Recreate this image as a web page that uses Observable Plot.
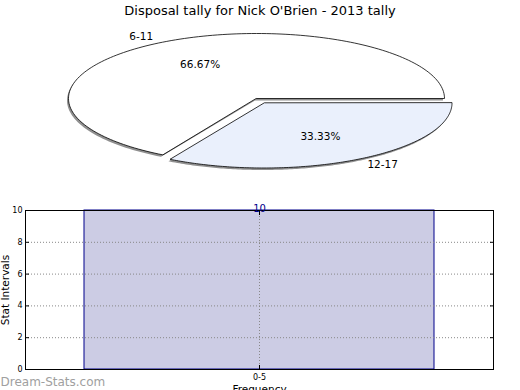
<!DOCTYPE html>
<html>
<head>
<meta charset="utf-8">
<script src="https://cdn.jsdelivr.net/npm/d3@7"></script>
<script src="https://cdn.jsdelivr.net/npm/@observablehq/plot@0.6"></script>
<style>
  html, body { margin: 0; padding: 0; background: #fff; width: 520px; height: 390px; overflow: hidden; }
  #title { font-family: "DejaVu Sans", sans-serif; font-size: 13px; text-align: center; height: 22px; line-height: 21px; color: #000; }
  svg { display: block; overflow: visible; }
</style>
</head>
<body>
<div id="title">Disposal tally for Nick O'Brien - 2013 tally</div>
<div id="pie"></div>
<div id="bar"></div>
<script>
// ---- data ----
const pieLabels = ["6-11", "12-17"];
const pieValues = [2, 1];
const pieExplode = [0, 0.08];
const pieColors = ["#ffffff", "#eaf0fc"];

const barCategories = ["0-5"];
const barValues = [10];
const yTicks = [0, 2, 4, 6, 8, 10];

// ---- pie geometry (matplotlib-style: start at 0°, counter-clockwise) ----
const total = d3.sum(pieValues);
let acc = 0;
const slices = pieValues.map((v, i) => {
  const a0 = acc / total * 2 * Math.PI;
  acc += v;
  const a1 = acc / total * 2 * Math.PI;
  const mid = (a0 + a1) / 2;
  const e = pieExplode[i];
  return {label: pieLabels[i], value: v, a0, a1, mid, cx: e * Math.cos(mid), cy: e * Math.sin(mid),
          pct: (v / total * 100).toFixed(2) + "%"};
});
const piePts = [];
for (const s of slices) {
  piePts.push({slice: s.label, x: s.cx, y: s.cy});
  const n = 160;
  for (let k = 0; k <= n; k++) {
    const a = s.a0 + (s.a1 - s.a0) * k / n;
    piePts.push({slice: s.label, x: s.cx + Math.cos(a), y: s.cy + Math.sin(a)});
  }
}
const labelPts = slices.map(s => ({
  text: s.label, x: s.cx + 1.1 * Math.cos(s.mid), y: s.cy + 1.1 * Math.sin(s.mid), right: Math.cos(s.mid) < 0
}));
const pctPts = slices.map(s => ({
  text: s.pct, x: s.cx + 0.6 * Math.cos(s.mid), y: s.cy + 0.6 * Math.sin(s.mid)
}));

const pie = Plot.plot({
  width: 520,
  height: 170,
  x: {domain: [-1, 1], range: [68, 444], axis: null},
  y: {domain: [-1, 1], range: [141, 11], axis: null},
  color: {domain: pieLabels, range: pieColors},
  style: {fontFamily: "DejaVu Sans, sans-serif", background: "transparent"},
  marks: [
    Plot.line(piePts, {x: "x", y: "y", z: "slice", curve: "linear-closed", fill: "#909090", stroke: "none", dx: -1.5, dy: 2}),
    Plot.line(piePts, {x: "x", y: "y", z: "slice", curve: "linear-closed", fill: "slice", stroke: "#000", strokeWidth: 0.8}),
    Plot.text(labelPts.filter(d => d.right), {x: "x", y: "y", text: "text", textAnchor: "end", fontSize: 10.5, fill: "#000"}),
    Plot.text(labelPts.filter(d => !d.right), {x: "x", y: "y", text: "text", textAnchor: "start", fontSize: 10.5, fill: "#000"}),
    Plot.text(pctPts, {x: "x", y: "y", text: "text", fontSize: 10.5, fill: "#000"})
  ]
});
document.getElementById("pie").append(pie);

// ---- bar chart ----
const barData = barCategories.map((c, i) => ({cat: c, value: barValues[i]}));
const bar = Plot.plot({
  width: 520,
  height: 198,
  marginTop: 18,
  marginBottom: 21,
  marginLeft: 25,
  marginRight: 27,
  style: {fontFamily: "DejaVu Sans, sans-serif", fontSize: "8px", background: "transparent", color: "#000"},
  x: {type: "band", domain: barCategories, padding: 0.144, label: null},
  y: {domain: [0, 10], label: null},
  marks: [
    Plot.barY(barData, {x: "cat", y: "value", fill: "#ccccE4", stroke: "#00008b", strokeWidth: 1}),
    Plot.gridY(yTicks, {stroke: "#888", strokeOpacity: 1, strokeDasharray: "1,2"}),
    Plot.gridX(barCategories, {stroke: "#888", strokeOpacity: 1, strokeDasharray: "1,2"}),
    Plot.axisY(yTicks, {anchor: "left", tickSize: -4, tickPadding: 7, label: null}),
    Plot.axisY(yTicks, {anchor: "right", tickSize: -4, tickFormat: () => "", label: null}),
    Plot.axisX(barCategories, {anchor: "bottom", tickSize: -4, tickPadding: 9, label: null}),
    Plot.axisX(barCategories, {anchor: "top", tickSize: -4, tickFormat: () => "", label: null}),
    Plot.frame({stroke: "#000", strokeWidth: 1}),
    Plot.text(barData, {x: "cat", y: "value", text: d => String(d.value), lineAnchor: "bottom", dy: 1, fontSize: 10, fill: "#00008b"}),
    Plot.text(["Stat Intervals"], {frameAnchor: "left", textAnchor: "middle", rotate: -90, dx: -20, fontSize: 10.5, fill: "#000"}),
    Plot.text(["Frequency"], {frameAnchor: "bottom", dy: 23, fontSize: 10.5, fill: "#000"}),
    Plot.text(["Dream-Stats.com"], {frameAnchor: "bottom-left", dx: -25, dy: 16, textAnchor: "start", fontSize: 12, fill: "#a0a0a0"})
  ]
});
document.getElementById("bar").append(bar);
</script>
</body>
</html>
